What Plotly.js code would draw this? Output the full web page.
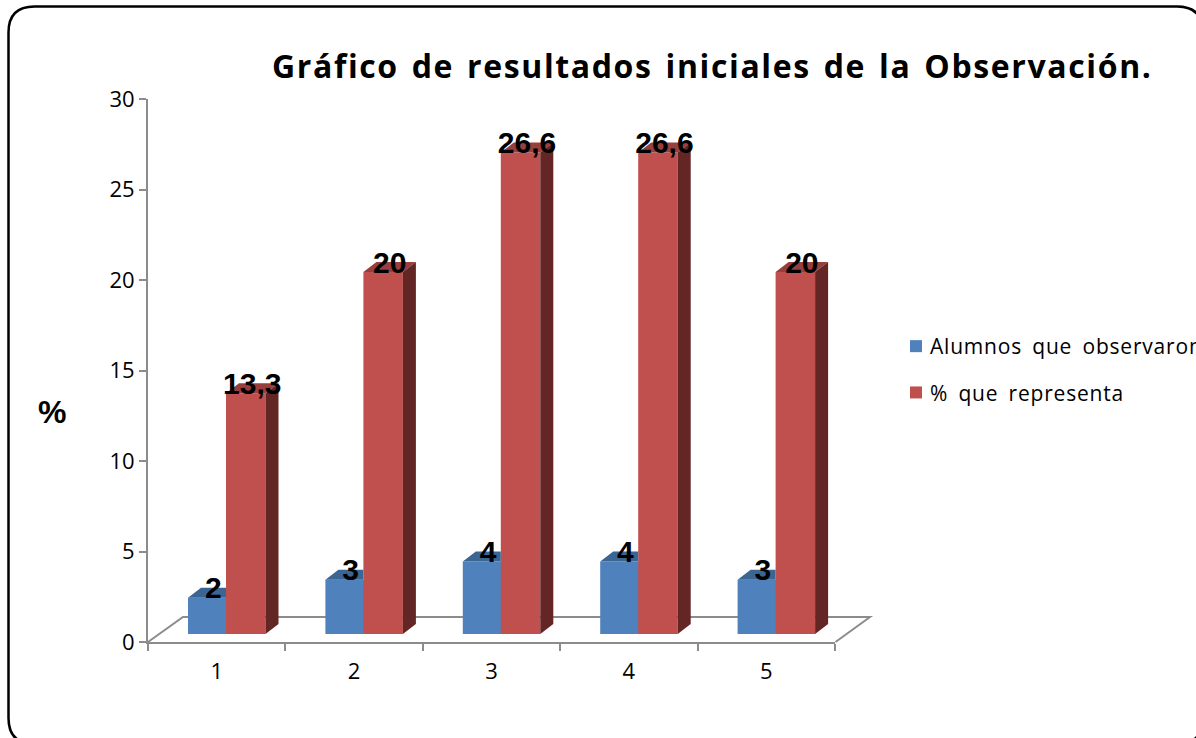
<!DOCTYPE html>
<html>
<head>
<meta charset="utf-8">
<script src="https://cdn.plot.ly/plotly-3.0.1.min.js"></script>
<style>
html,body{margin:0;padding:0;background:#fff;overflow:hidden}
#chart{width:1196px;height:738px}
.gtitle{letter-spacing:1.62px;word-spacing:3px}
.legendtext{letter-spacing:0.8px;word-spacing:4px;transform:translateX(-6px)}
</style>
</head>
<body>
<div id="chart"></div>
<script>
const categories = [1, 2, 3, 4, 5];
const alumnos = [2, 3, 4, 4, 3];
const porcentaje = [13.3, 20, 26.6, 26.6, 20];
const porcentajeLabels = ['13,3', '20', '26,6', '26,6', '20'];
const yTicks = [0, 5, 10, 15, 20, 25, 30];
const xBoundaries = [0.5, 1.5, 2.5, 3.5, 4.5, 5.5];
const seriesNames = ['Alumnos que observaron', '% que representa'];
const chartTitle = 'Gráfico de resultados iniciales de la Observación.';

const W = 1196, H = 738;
const L = 148, R = 835, T = 99, B = 642;
const pxX = (R - L) / 5, pxY = (B - T) / 30;
const px = p => (p - L) / (R - L);
const py = p => (B - p) / (B - T);

const base = 8 / pxY;
const barW = 39.5 / pxX;
const off1 = -28.7 / pxX, off2 = 9.3 / pxX;
const dx = 13 / pxX, dy = 10 / pxY;
const lblX1 = 5.5 / pxX, lblX2 = 6.5 / pxX, lblY = 7 / pxY;

function poly(list) {
  const xs = [], ys = [];
  list.forEach(pts => {
    pts.forEach(p => { xs.push(p[0]); ys.push(p[1]); });
    xs.push(null); ys.push(null);
  });
  return {x: xs, y: ys};
}
function face(pg, color) {
  return {type: 'scatter', mode: 'lines', x: pg.x, y: pg.y, fill: 'toself', fillcolor: color,
    line: {width: 0, color: color}, showlegend: false, hoverinfo: 'skip'};
}

const blueTop = poly(categories.map((c, i) => {
  const x0 = c + off1, x1 = c + off2, t = alumnos[i] + base;
  return [[x0, t], [x0 + dx, t + dy], [x1, t + dy], [x1, t]];
}));
const redTop = poly(categories.map((c, i) => {
  const x0 = c + off2, x1 = x0 + barW, t = porcentaje[i] + base;
  return [[x0, t], [x0 + dx, t + dy], [x1 + dx, t + dy], [x1, t]];
}));
const redSide = poly(categories.map((c, i) => {
  const x1 = c + off2 + barW, t = porcentaje[i] + base;
  return [[x1, base], [x1 + dx, base + dy], [x1 + dx, t + dy], [x1, t]];
}));

const labelFont = {family: '"Liberation Sans", Arial, sans-serif', size: 30, color: '#000', weight: 700};

const traces = [
  {type: 'bar', name: seriesNames[0], x: categories, y: alumnos, base: base, width: barW, offset: off1,
    marker: {color: '#4f81bd'}, legendgroup: 'a', hoverinfo: 'x+text', hovertext: alumnos.map(String)},
  {type: 'bar', name: seriesNames[1], x: categories, y: porcentaje, base: base, width: barW, offset: off2,
    marker: {color: '#c0504d'}, legendgroup: 'b', hoverinfo: 'x+text', hovertext: porcentajeLabels},
  face(blueTop, '#3b6593'),
  face(redTop, '#983f3d'),
  face(redSide, '#632625'),
  {type: 'scatter', mode: 'text', x: categories.map(c => c + off1 + barW / 2 + lblX1),
    y: alumnos.map(v => v + base + lblY), text: alumnos.map(String), textposition: 'middle center',
    textfont: labelFont, showlegend: false, hoverinfo: 'skip', cliponaxis: false},
  {type: 'scatter', mode: 'text', x: categories.map(c => c + off2 + barW / 2 + lblX2),
    y: porcentaje.map(v => v + base + lblY), text: porcentajeLabels, textposition: 'middle center',
    textfont: labelFont, showlegend: false, hoverinfo: 'skip', cliponaxis: false}
];

const floorColor = '#8c8c8c';
const r = 26, bl = 8.5, bt = 6.5, br = 1203, bb = 744;
const borderPath =
  `M ${px(bl)} ${py(bt + r)} Q ${px(bl)} ${py(bt)} ${px(bl + r)} ${py(bt)} ` +
  `L ${px(br - r)} ${py(bt)} Q ${px(br)} ${py(bt)} ${px(br)} ${py(bt + r)} ` +
  `L ${px(br)} ${py(bb - r)} Q ${px(br)} ${py(bb)} ${px(br - r)} ${py(bb)} ` +
  `L ${px(bl + r)} ${py(bb)} Q ${px(bl)} ${py(bb)} ${px(bl)} ${py(bb - r)} Z`;
const floorPath =
  `M ${px(L)} ${py(B)} L ${px(183)} ${py(617)} L ${px(870)} ${py(617)} L ${px(835.5)} ${py(B)}`;

const layout = {
  width: W, height: H,
  margin: {l: L, r: W - R, t: T, b: H - B, autoexpand: false},
  paper_bgcolor: '#fff', plot_bgcolor: 'rgba(0,0,0,0)',
  barmode: 'overlay',
  title: {
    text: chartTitle, xref: 'container', yref: 'container',
    x: 272 / W, xanchor: 'left', y: 1 - 67 / H, yanchor: 'middle',
    font: {family: '"Open Sans", sans-serif', size: 32, color: '#000', weight: 700}
  },
  xaxis: {
    range: [0.5, 5.5], tickmode: 'array', tickvals: categories, ticktext: categories.map(String),
    ticks: '', ticklabelstandoff: 9, showgrid: false, zeroline: false,
    showline: true, linecolor: floorColor, linewidth: 2,
    tickfont: {family: '"Open Sans", sans-serif', size: 22, color: '#000'},
    minor: {tickmode: 'array', tickvals: xBoundaries, ticks: 'outside', ticklen: 7, tickwidth: 2, tickcolor: floorColor, showgrid: false}
  },
  yaxis: {
    range: [0, 30], tickmode: 'array', tickvals: yTicks, ticks: 'outside', ticklen: 7, tickwidth: 2,
    tickcolor: floorColor, showgrid: false, zeroline: false,
    showline: true, linecolor: floorColor, linewidth: 2,
    tickfont: {family: '"Open Sans", sans-serif', size: 22, color: '#000'}
  },
  legend: {
    x: px(896), y: py(326), xanchor: 'left', yanchor: 'top', tracegroupgap: 16, bgcolor: 'rgba(0,0,0,0)',
    itemwidth: 30, font: {family: '"Open Sans", sans-serif', size: 21, color: '#000'}
  },
  annotations: [{
    text: '%', xref: 'paper', yref: 'paper', x: px(52), y: py(412), xanchor: 'center', yanchor: 'middle',
    showarrow: false, font: {family: '"Liberation Sans", Arial, sans-serif', size: 32, color: '#000', weight: 700}
  }],
  shapes: [
    {type: 'path', xref: 'paper', yref: 'paper', path: borderPath, layer: 'below', line: {color: '#000', width: 2.5}},
    {type: 'path', xref: 'paper', yref: 'paper', path: floorPath, layer: 'below', line: {color: floorColor, width: 2}}
  ]
};

Plotly.newPlot('chart', traces, layout, {displayModeBar: false, responsive: false});
</script>
</body>
</html>
